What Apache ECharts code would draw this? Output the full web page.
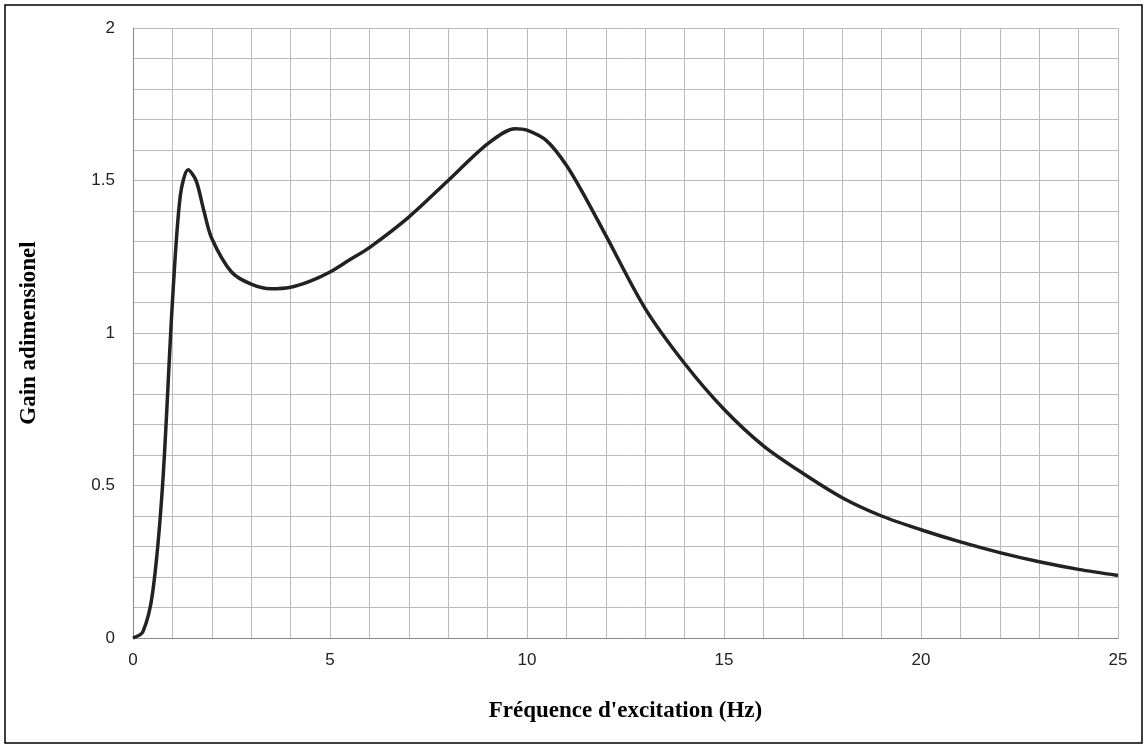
<!DOCTYPE html>
<html><head><meta charset="utf-8">
<script src="https://cdn.jsdelivr.net/npm/echarts@6/dist/echarts.min.js"></script>
<style>html,body{margin:0;padding:0;background:#fff}#c{width:1148px;height:749px}</style>
</head><body><div id="c"></div>
<script>
// fréquence (Hz) et gain
var freq = [0,0.25,0.5,0.75,1.0,1.2,1.4,1.6,1.8,2.0,2.5,3,3.5,4,4.5,5,5.5,6,7,8,9,9.7,10,10.5,11,11.5,12,13,14,15,16,17,18,19,20,21,22,23,24,25];
var gain = [0,0.02,0.15,0.5,1.1,1.45,1.535,1.50,1.40,1.31,1.2,1.16,1.145,1.15,1.17,1.2,1.24,1.28,1.38,1.50,1.62,1.67,1.665,1.63,1.55,1.44,1.32,1.08,0.9,0.75,0.63,0.54,0.46,0.40,0.355,0.315,0.28,0.25,0.225,0.205];
var pts = [];
for (var i = 0; i < freq.length; i++) pts.push([freq[i], gain[i]]);

var chart = echarts.init(document.getElementById('c'));
chart.setOption({
  animation: false,
  grid: {left: 133, right: 30, top: 28, bottom: 111},
  graphic: [{type: 'rect', shape: {x: 5, y: 5, width: 1137, height: 738}, style: {fill: 'none', stroke: '#000', lineWidth: 1.5}}],
  xAxis: {
    type: 'value', min: 0, max: 25, interval: 1,
    name: "Fréquence d'excitation (Hz)", nameLocation: 'middle', nameGap: 62,
    nameTextStyle: {fontFamily: 'Liberation Serif', fontWeight: 'bold', fontSize: 23, color: '#000'},
    axisLine: {lineStyle: {color: '#888'}}, axisTick: {show: false},
    axisLabel: {fontFamily: 'Liberation Sans', fontSize: 17, color: '#222', margin: 14,
      formatter: function (v) { return v % 5 === 0 ? v : ''; }},
    splitLine: {lineStyle: {color: '#bbb'}}
  },
  yAxis: {
    type: 'value', min: 0, max: 2, interval: 0.1,
    name: 'Gain adimensionel', nameLocation: 'middle', nameGap: 92,
    nameTextStyle: {fontFamily: 'Liberation Serif', fontWeight: 'bold', fontSize: 23, color: '#000'},
    axisLine: {show: true, lineStyle: {color: '#888'}}, axisTick: {show: false},
    axisLabel: {fontFamily: 'Liberation Sans', fontSize: 17, color: '#222', margin: 18,
      formatter: function (v) { var r = Math.round(v * 10); return r % 5 === 0 ? String(r / 10) : ''; }},
    splitLine: {lineStyle: {color: '#bbb'}}
  },
  series: [{type: 'line', data: pts, smooth: 0.3, showSymbol: false,
    lineStyle: {color: '#222', width: 3.5}}]
});
</script></body></html>
